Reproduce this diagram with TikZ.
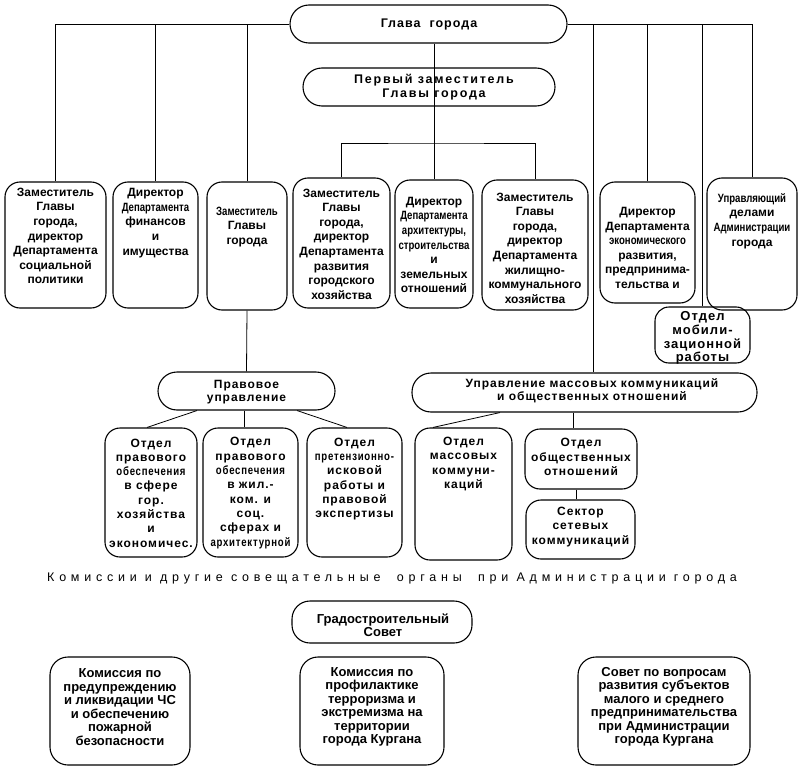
\documentclass[tikz,border=0pt]{standalone}
\usepackage{fontspec}
\usepackage{graphicx}
\setmainfont{Liberation Sans}
\newfontfamily\spc[LetterSpace=8]{Liberation Sans}
\newfontfamily\wspc[LetterSpace=14]{Liberation Sans}
\newfontfamily\capfont[LetterSpace=38]{Liberation Sans}
\newcommand{\cnd}[1]{\scalebox{0.8}[1]{#1}}
\begin{document}
\begin{tikzpicture}[x=1pt,y=-1pt,
  box/.style={draw, line width=1.1pt, rounded corners=15pt, inner sep=0pt},
  txt/.style={align=center, inner sep=0pt, font=\bfseries\fontsize{12}{14.6}\selectfont},
  stxt/.style={txt, font=\spc\bfseries\fontsize{12}{14.3}\selectfont},
  btxt/.style={txt, font=\bfseries\fontsize{13}{13.5}\selectfont},
  conn/.style={line width=0.8pt}]
\useasboundingbox (0,0) rectangle (800,773);
% boxes
\node[box, rounded corners=19pt, minimum width=277pt, minimum height=38pt] (glava) at (428.5,24) {};
\node[box, rounded corners=19pt, minimum width=252pt, minimum height=38pt] (perv) at (429,87) {};
\node[box, minimum width=101pt, minimum height=126pt] (b1) at (55.5,245) {};
\node[box, minimum width=85pt, minimum height=126pt] (b2) at (155.5,245) {};
\node[box, minimum width=80pt, minimum height=128pt] (b3) at (247,246) {};
\node[box, minimum width=97pt, minimum height=130pt] (b4) at (341.5,243) {};
\node[box, minimum width=78pt, minimum height=128pt] (b5) at (434,244) {};
\node[box, minimum width=106pt, minimum height=130pt] (b6) at (535,245) {};
\node[box, minimum width=95pt, minimum height=121pt] (b7) at (647.5,242.5) {};
\node[box, minimum width=90pt, minimum height=132pt] (b8) at (752,244) {};
\node[box, rounded corners=14pt, minimum width=95pt, minimum height=56pt] (mob) at (702.5,335) {};
\node[box, rounded corners=19pt, minimum width=177pt, minimum height=38pt] (prav) at (246.5,391) {};
\node[box, rounded corners=19pt, minimum width=345pt, minimum height=39pt] (umk) at (584.5,392.5) {};
\node[box, minimum width=92pt, minimum height=129pt] (p1) at (151,492.5) {};
\node[box, minimum width=95pt, minimum height=129pt] (p2) at (250.5,492.5) {};
\node[box, minimum width=95pt, minimum height=129pt] (p3) at (354.5,492.5) {};
\node[box, minimum width=97pt, minimum height=132pt] (m1) at (463.5,494) {};
\node[box, minimum width=112pt, minimum height=60pt] (m2) at (581,459) {};
\node[box, minimum width=109pt, minimum height=59pt] (m3) at (580.5,529.5) {};
\node[box, rounded corners=18pt, minimum width=180pt, minimum height=42pt] (grad) at (382,622) {};
\node[box, rounded corners=18pt, minimum width=140pt, minimum height=108pt] (k1) at (120,711) {};
\node[box, rounded corners=18pt, minimum width=144pt, minimum height=108pt] (k2) at (372,711) {};
\node[box, rounded corners=18pt, minimum width=172pt, minimum height=108pt] (k3) at (664,711) {};
% texts
\node[stxt, font=\spc\bfseries\fontsize{12.5}{14}\selectfont] (tglava) at (429,24) {Глава\ \ города};
\node[stxt, font=\wspc\bfseries\fontsize{12.5}{13.5}\selectfont] (tperv) at (434,87) {Первый заместитель\\Главы города};
\node[txt] (t1) at (55.5,236) {Заместитель\\Главы\\города,\\директор\\Департамента\\социальной\\политики};
\node[txt] (t2) at (155.5,223) {Директор\\\cnd{Департамента}\\финансов\\и\\имущества};
\node[txt] (t3) at (247,227) {\cnd{Заместитель}\\Главы\\города};
\node[txt] (t4) at (341.5,244) {Заместитель\\Главы\\города,\\директор\\Департамента\\развития\\городского\\хозяйства};
\node[txt] (t5) at (434,245) {Директор\\\cnd{Департамента}\\\cnd{архитектуры,}\\\cnd{строительства}\\и\\земельных\\отношений};
\node[txt] (t6) at (535,248) {Заместитель\\Главы\\города,\\директор\\Департамента\\жилищно-\\коммунального\\хозяйства};
\node[txt] (t7) at (647.5,248) {Директор\\Департамента\\\cnd{экономического}\\развития,\\предпринима-\\тельства и};
\node[txt] (t8) at (752,221) {\cnd{Управляющий}\\делами\\\cnd{Администрации}\\города};
\node[stxt, font=\spc\bfseries\fontsize{13}{13.7}\selectfont] (tmob) at (702.5,338) {Отдел\\мобили-\\зационной\\работы};
\node[stxt, font=\spc\bfseries\fontsize{12}{13}\selectfont] (tprav) at (246.5,392) {Правовое\\управление};
\node[stxt, font=\spc\bfseries\fontsize{12}{13}\selectfont] (tumk) at (592,391) {Управление массовых коммуникаций\\и общественных отношений};
\node[stxt] (tp1) at (151,493) {Отдел\\правового\\\cnd{обеспечения}\\в сфере\\гор.\\хозяйства\\и\\экономичес.};
\node[stxt] (tp2) at (250.5,493) {Отдел\\правового\\\cnd{обеспечения}\\в жил.-\\ком. и\\соц.\\сферах и\\\cnd{архитектурной}};
\node[stxt] (tp3) at (354.5,479) {Отдел\\\cnd{претензионно-}\\исковой\\работы и\\правовой\\экспертизы};
\node[stxt] (tm1) at (463.5,464) {Отдел\\массовых\\коммуни-\\каций};
\node[stxt] (tm2) at (581,457) {Отдел\\общественных\\отношений};
\node[stxt] (tm3) at (580.5,527) {Сектор\\сетевых\\коммуникаций};
\node[inner sep=0pt, font=\capfont\fontsize{12.5}{14}\selectfont] (tcap) at (392,578) {Комиссии и другие совещательные\ \ органы\ \ при Администрации города};
\node[btxt] (tgrad) at (383,625) {Градостроительный\\Совет};
\node[btxt] (tk1) at (120,707) {Комиссия по\\предупреждению\\и ликвидации ЧС\\и обеспечению\\пожарной\\безопасности};
\node[btxt] (tk2) at (372,707) {Комиссия по\\профилактике\\терроризма и\\экстремизма на\\территории\\города Кургана};
\node[btxt] (tk3) at (664,707) {Совет по вопросам\\развития субъектов\\малого и среднего\\предпринимательства\\при Администрации\\города Кургана};
% connectors
\draw[conn] (glava.west) -| (b1.north);
\draw[conn] (glava.west) -| (b2.north);
\draw[conn] (glava.west) -| (b3.north);
\draw[conn] (glava.east) -| (b8.north);
\draw[conn] (glava.east) -| (mob.north);
\draw[conn] (glava.east) -| (b7.north);
\draw[conn] (glava.east) -| ([xshift=8.5pt]umk.north);
\draw[conn] (glava.south -| b5.north) -- (perv.south -| b5.north |- perv.north);
\coordinate (bar) at (434,143);
\draw[conn] (perv.south -| bar) -- (bar);
\draw[conn] (b4.north) |- (bar) -| (b6.north);
\draw[conn] (bar) -- (b5.north);
\draw[conn] (b3.south) -- (prav.north);
\draw[conn] ([xshift=-49.5pt]prav.south) -- ([xshift=-4pt]p1.north);
\draw[conn] ([xshift=-2.5pt]prav.south) -- ([xshift=-2.5pt]prav.south |- p2.north);
\draw[conn] ([xshift=50.5pt]prav.south) -- ([xshift=-7.5pt]p3.north);
\draw[conn] ([xshift=-84.5pt]umk.south) -- ([xshift=-30.5pt]m1.north);
\draw[conn] ([xshift=-8pt]m2.north |- umk.south) -- ([xshift=-8pt]m2.north);
\draw[conn] ([xshift=-5pt]m2.south) -- ([xshift=-5pt]m2.south |- m3.north);
\end{tikzpicture}
\end{document}
